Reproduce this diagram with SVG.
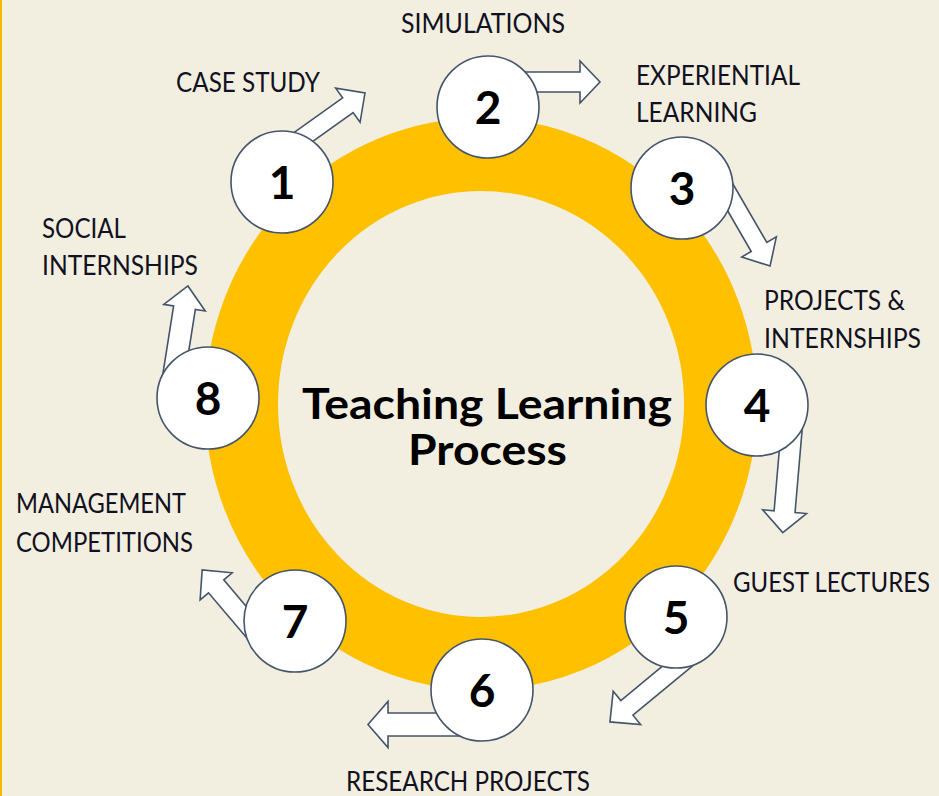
<svg xmlns="http://www.w3.org/2000/svg" width="939" height="796" viewBox="0 0 939 796">
<style>
.bg{fill:#F3EFE0}
.ring{fill:none;stroke:#FFC000;stroke-width:73}
.arrow{fill:#FFFFFF;stroke:#44546A;stroke-width:1.6;stroke-linejoin:miter}
.node{fill:#FFFFFF;stroke:#44546A;stroke-width:1.6}
.num{font-family:Lato,"Open Sans","DejaVu Sans",sans-serif;font-weight:700;font-size:46px;fill:#000;text-anchor:middle}
.lbl{font-family:Lato,"Open Sans","DejaVu Sans",sans-serif;font-size:27px;fill:#111122}
.title{font-family:Lato,"Open Sans","DejaVu Sans",sans-serif;font-weight:700;font-size:42px;fill:#000}
</style>
<rect class="bg" x="0" y="0" width="939" height="796"/>
<rect x="0" y="0" width="2" height="796" fill="#F5B800"/>
<ellipse class="ring" cx="481" cy="404" rx="239.5" ry="249.5"/>
<g id="title">
<text class="title" x="302" y="419" textLength="370" lengthAdjust="spacingAndGlyphs">Teaching Learning</text>
<text class="title" x="408" y="465" textLength="159" lengthAdjust="spacingAndGlyphs">Process</text>
</g>
<g id="connectors">
<polygon class="arrow" transform="translate(290,146.5) rotate(-35.5)" points="0,-9 71.1,-9 71.1,-21 92.1,0 71.1,21 71.1,9 0,9"/>
<polygon class="arrow" transform="translate(500,82)" points="0,-10 80,-10 80,-21 100,0 80,21 80,10 0,10"/>
<polygon class="arrow" transform="translate(715,171) rotate(59.9)" points="0,-9 87.8,-9 87.8,-20 109.8,0 87.8,20 87.8,9 0,9"/>
<polygon class="arrow" transform="translate(792,425) rotate(94.9)" points="0,-10.5 87,-10.5 87,-22 108,0 87,22 87,10.5 0,10.5"/>
<polygon class="arrow" transform="translate(694.7,651.8) rotate(140.4)" points="0,-9.5 88,-9.5 88,-21.5 110,0 88,21.5 88,9.5 0,9.5"/>
<polygon class="arrow" transform="translate(470,724.5) rotate(180)" points="0,-11.5 82,-11.5 82,-23 102,0 82,23 82,11.5 0,11.5"/>
<polygon class="arrow" transform="translate(268,647.5) rotate(229.7)" points="0,-10 80.2,-10 80.2,-21 101.8,0 80.2,21 80.2,10 0,10"/>
<polygon class="arrow" transform="translate(172,386.5) rotate(-81)" points="0,-11 79.8,-11 79.8,-21 101.8,0 79.8,21 79.8,11 0,11"/>
</g>
<g id="node1"><circle class="node" cx="282" cy="182" r="51"/><text class="num" x="282" y="199">1</text></g>
<g id="node2"><circle class="node" cx="488" cy="107" r="51"/><text class="num" x="488" y="124">2</text></g>
<g id="node3"><circle class="node" cx="682" cy="188" r="51"/><text class="num" x="682" y="205">3</text></g>
<g id="node4"><circle class="node" cx="757" cy="405" r="51"/><text class="num" x="757" y="422">4</text></g>
<g id="node5"><circle class="node" cx="676" cy="617" r="51"/><text class="num" x="676" y="634">5</text></g>
<g id="node6"><circle class="node" cx="482" cy="690" r="51"/><text class="num" x="482" y="707">6</text></g>
<g id="node7"><circle class="node" cx="295" cy="621" r="51"/><text class="num" x="295" y="638">7</text></g>
<g id="node8"><circle class="node" cx="208" cy="398" r="51"/><text class="num" x="208" y="415">8</text></g>
<g id="labels">
<text class="lbl" x="401" y="33" textLength="164" lengthAdjust="spacingAndGlyphs">SIMULATIONS</text>
<text class="lbl" x="636" y="85" textLength="164" lengthAdjust="spacingAndGlyphs">EXPERIENTIAL</text>
<text class="lbl" x="636" y="122" textLength="121" lengthAdjust="spacingAndGlyphs">LEARNING</text>
<text class="lbl" x="176" y="92" textLength="144" lengthAdjust="spacingAndGlyphs">CASE STUDY</text>
<text class="lbl" x="42" y="238" textLength="84" lengthAdjust="spacingAndGlyphs">SOCIAL</text>
<text class="lbl" x="42" y="275" textLength="156" lengthAdjust="spacingAndGlyphs">INTERNSHIPS</text>
<text class="lbl" x="764" y="310" textLength="141" lengthAdjust="spacingAndGlyphs">PROJECTS &amp;</text>
<text class="lbl" x="764" y="348" textLength="157" lengthAdjust="spacingAndGlyphs">INTERNSHIPS</text>
<text class="lbl" x="16" y="513" textLength="170" lengthAdjust="spacingAndGlyphs">MANAGEMENT</text>
<text class="lbl" x="16" y="552" textLength="177" lengthAdjust="spacingAndGlyphs">COMPETITIONS</text>
<text class="lbl" x="733" y="592" font-size="25" textLength="197" lengthAdjust="spacingAndGlyphs">GUEST LECTURES</text>
<text class="lbl" x="346" y="791" textLength="244" lengthAdjust="spacingAndGlyphs">RESEARCH PROJECTS</text>
</g>
</svg>
